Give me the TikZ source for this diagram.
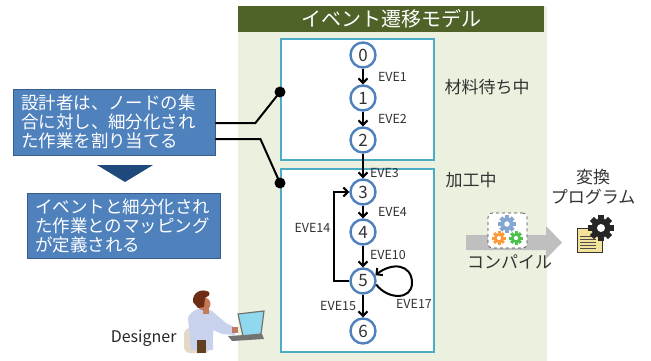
\documentclass[tikz,border=0pt]{standalone}
\usepackage{fontspec}
\setmainfont{Noto Sans CJK JP}
\usetikzlibrary{arrows.meta,positioning}

\definecolor{panelbg}{HTML}{EBF1DE}
\definecolor{titlebar}{HTML}{4F6228}
\definecolor{groupcyan}{HTML}{4BACC6}
\definecolor{stateblue}{HTML}{4F81BD}
\definecolor{taskblue}{HTML}{4F81BD}
\definecolor{taskedge}{HTML}{385D8A}
\definecolor{navy}{HTML}{1F497D}
\definecolor{docyellow}{HTML}{F3E39A}
\definecolor{shirt}{HTML}{C8D2EC}
\definecolor{skin}{HTML}{C47A5A}
\definecolor{hair}{HTML}{6E2C14}
\definecolor{chair}{HTML}{E4D9C6}
\definecolor{screen}{HTML}{8FD8EE}

% gear: x, y, radius, colour
\newcommand{\drawcog}[4]{%
  \fill[#4] (#1,#2) circle (#3);
  \foreach \a in {0,45,90,135}
    \fill[#4,rotate around={\a:(#1,#2)}] (#1-#3*1.35,#2-#3*0.3) rectangle (#1+#3*1.35,#2+#3*0.3);
  \fill[white] (#1,#2) circle (#3*0.42);}

\begin{document}
\begin{tikzpicture}[x=1pt,y=-1pt,
    state/.style={circle,draw=stateblue,line width=2.4pt,fill=white,minimum size=25pt,inner sep=0pt,
      font=\fontsize{17}{17}\selectfont,text=black!80},
    group/.style={draw=groupcyan,line width=2.4pt,fill=white,minimum width=153pt,inner sep=0pt},
    task/.style={draw=taskedge,line width=0.8pt,fill=taskblue,text=white,align=left,
      inner xsep=8pt,font=\fontsize{17.5}{19}\selectfont},
    evt/.style={font=\fontsize{12.5}{13}\selectfont,text=black!80,inner sep=1pt},
    lbl/.style={font=\fontsize{17}{20}\selectfont,text=black!80},
    tr/.style={-{Straight Barb[length=4.5pt,width=9pt]},line width=2pt},
    wire/.style={line width=2pt},
  ]
  \useasboundingbox (0,0) rectangle (651,361);

  % model panel and title
  \fill[panelbg] (238,6) rectangle (547,361);
  \node[fill=titlebar,text=white,minimum width=306pt,minimum height=26pt,inner sep=0pt,
    font=\fontsize{20}{20}\selectfont] (title) at (391,19) {イベント遷移モデル};

  % state groups
  \node[group,minimum height=121pt] (wait) at (357.5,99.5) {};
  \node[group,minimum height=183pt] (proc) at (357.5,260.5) {};
  \node[lbl,anchor=west] (waitlbl) at (441,87) {材料待ち中};
  \node[lbl,anchor=west] (proclbl) at (442,180) {加工中};

  % states
  \foreach \n/\y in {0/55,1/98,2/140,3/192,4/232,5/281,6/331}
    \node[state] (s\n) at (363,\y) {\n};

  \draw[tr] (s0) -- node[evt,right=13pt] {EVE1} (s1);
  \draw[tr] (s1) -- node[evt,right=13pt] {EVE2} (s2);
  \draw[tr] (s2) -- node[evt,right=5pt,pos=0.78] {EVE3} (s3);
  \draw[tr] (s3) -- node[evt,right=13pt] {EVE4} (s4);
  \draw[tr] (s4) -- node[evt,right=5pt,pos=0.45] {EVE10} (s5);
  \draw[tr] (s5) -- node[evt,left=5pt] {EVE15} (s6);
  \draw[tr] (s5.west) -- ++(-15,0) |- node[evt,left=2pt,pos=0.3] {EVE14} (s3.west);
  \draw[tr] (s5.-15) .. controls (388,300) and (412,300) .. (412,283)
    .. controls (412,264) and (392,262) .. (s5.25);
  \node[evt] (e17) at (414,304) {EVE17};

  % designer side
  \node[task,text width=186pt,minimum height=66pt] (assign) at (114,122)
    {設計者は、ノードの集\\合に対し、細分化され\\た作業を割り当てる};
  \node[task,text width=177pt,minimum height=65pt] (mapping) at (123.5,225.5)
    {イベントと細分化され\\た作業とのマッピング\\が定義される};
  \fill[navy] (97,165) -- (153,165) -- (125,182) -- cycle;

  \coordinate (d1) at (280,92);
  \coordinate (d2) at (280,183);
  \draw[wire] ([yshift=-1pt]assign.east) -- ++(40,0) -- (d1);
  \draw[wire] ([yshift=-17pt]assign.east) -- ++(45,0) -- (d2);
  \fill (d1) circle (5.5);
  \fill (d2) circle (5.5);

  % compile step
  \fill[black!25] (466,235) -- (546,235) -- (546,226) -- (562,242.5) -- (546,259) -- (546,250) -- (466,250) -- cycle;
  \node[draw=black!75,dashed,line width=0.6pt,rounded corners=4pt,fill=white,
    minimum width=39pt,minimum height=35pt] (cfg) at (507.5,230.5) {};
  \drawcog{507}{224}{6.5}{stateblue!70}
  \drawcog{499}{238}{5}{orange!80}
  \drawcog{516}{238}{5}{green!65!black!70}
  \node[lbl] (compile) at (509.5,262) {コンパイル};

  % generated program
  \node[lbl,align=center] (prog) at (593,187) {変換\\プログラム};
  \filldraw[fill=docyellow,draw=black!80,line width=0.8pt] (577,228) rectangle (602,252);
  \foreach \yy in {236,239,242,245,248}
    \draw[black!70,line width=0.9pt] (580,\yy) -- (596,\yy);
  \drawcog{601}{228}{9.5}{black!85}

  % designer at the laptop
  \node[font=\fontsize{16}{16}\selectfont,text=black!85,anchor=east] (dsg) at (180,338) {Designer};
  \fill[chair,rounded corners=6pt] (184,328) rectangle (210,353);
  \fill[shirt] (188,318) .. controls (191,309) and (203,306) .. (212,311)
    -- (226,323) -- (236,328) -- (235,335) -- (222,334) -- (213,330)
    -- (213,350) -- (191,350) -- cycle;
  \fill[brown!50!black] (197,340) rectangle (206,353);
  \fill[skin] (204,304) circle (6.5);
  \fill[skin] (203,308) rectangle (209,314);
  \fill[skin] (232,327) -- (238,327) -- (238,333) -- (232,333) -- cycle;
  \fill[hair] (193,302) .. controls (192,292) and (202,288) .. (209,292)
    .. controls (211,295) and (207,297) .. (205,298) -- (204,307) -- (198,308) -- cycle;
  \filldraw[fill=screen,draw=black!55,line width=1.2pt] (238,314) -- (264,311) -- (261,334) -- (243,336) -- cycle;
  \fill[black!55] (228,336) -- (262,334) -- (264,339) -- (232,341) -- cycle;
\end{tikzpicture}
\end{document}
